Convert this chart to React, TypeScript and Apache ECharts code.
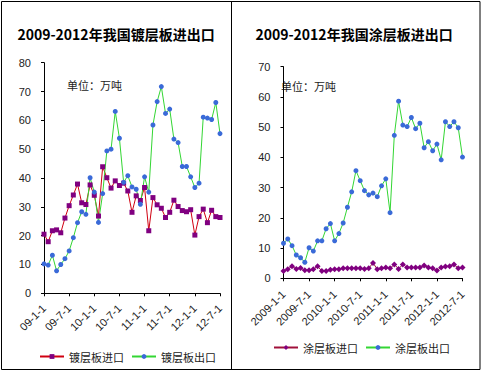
import React, { useEffect, useRef } from "react";
import * as echarts from "echarts";

const months = [
  "2009-1-1","2009-2-1","2009-3-1","2009-4-1","2009-5-1","2009-6-1","2009-7-1","2009-8-1","2009-9-1","2009-10-1","2009-11-1","2009-12-1",
  "2010-1-1","2010-2-1","2010-3-1","2010-4-1","2010-5-1","2010-6-1","2010-7-1","2010-8-1","2010-9-1","2010-10-1","2010-11-1","2010-12-1",
  "2011-1-1","2011-2-1","2011-3-1","2011-4-1","2011-5-1","2011-6-1","2011-7-1","2011-8-1","2011-9-1","2011-10-1","2011-11-1","2011-12-1",
  "2012-1-1","2012-2-1","2012-3-1","2012-4-1","2012-5-1","2012-6-1","2012-7-1",
];

const leftTitle = "2009-2012年我国镀层板进出口";
const rightTitle = "2009-2012年我国涂层板进出口";
const unitText = "单位：万吨";

const galvImportName = "镀层板进口";
const galvExportName = "镀层板出口";
const coatImportName = "涂层板进口";
const coatExportName = "涂层板出口";

const galvImport = [20.5, 17.9, 21.7, 22.0, 21.0, 26.1, 30.4, 34.1, 37.9, 31.4, 30.8, 37.6, 34.0, 26.8, 43.9, 40.1, 36.5, 39.0, 37.4, 38.2, 35.5, 28.1, 33.8, 32.2, 36.7, 21.7, 33.2, 30.7, 29.5, 26.3, 28.1, 32.3, 30.1, 28.7, 28.3, 29.0, 20.2, 26.6, 29.2, 24.5, 28.8, 26.6, 26.3];
const galvExport = [10.2, 9.8, 13.2, 7.8, 10.0, 12.0, 14.7, 19.3, 24.5, 28.3, 27.4, 40.1, 35.1, 24.6, 34.6, 49.4, 50.0, 63.1, 53.8, 38.5, 40.8, 36.9, 36.1, 30.9, 40.4, 35.1, 58.4, 66.5, 71.7, 62.4, 63.9, 53.5, 52.3, 44.0, 44.0, 40.4, 36.7, 38.2, 61.1, 60.8, 60.3, 66.2, 55.4];

const coatImport = [2.4, 3.0, 4.0, 3.1, 3.4, 2.7, 2.7, 3.0, 4.0, 2.4, 2.4, 2.8, 3.0, 3.0, 3.3, 3.3, 3.3, 3.3, 3.3, 3.1, 3.3, 5.1, 3.0, 3.3, 3.6, 3.3, 4.6, 3.1, 4.6, 3.6, 3.6, 3.6, 3.6, 4.2, 3.6, 3.3, 2.6, 3.6, 3.9, 4.0, 4.6, 3.3, 3.6];
const coatExport = [11.6, 13.0, 10.8, 7.7, 6.8, 5.3, 10.1, 9.0, 12.4, 12.4, 16.4, 18.1, 12.4, 14.8, 18.3, 23.5, 28.6, 35.6, 32.3, 29.0, 27.6, 28.2, 27.0, 30.6, 32.9, 21.7, 47.3, 58.6, 50.7, 50.2, 53.2, 49.5, 51.3, 43.2, 45.2, 42.2, 44.4, 39.2, 51.8, 50.2, 51.8, 49.8, 40.1];

const leftYMax = 80;
const rightYMax = 70;
const yInterval = 10;

const CJK = '"Noto Sans CJK SC", sans-serif';
const LAT = '"Liberation Sans", Arial, sans-serif';

export default function App() {
  const ref = useRef<HTMLDivElement>(null);
  useEffect(() => {
    if (!ref.current) return;
    const chart = echarts.init(ref.current, null, { renderer: "svg" });
    const xAxisBase = (gridIndex: number, fmt: (v: string) => string, margin: number) => ({
      type: "category",
      gridIndex,
      data: months,
      boundaryGap: false,
      axisLine: { show: true, lineStyle: { color: "#000", width: 1 } },
      axisTick: { show: true, interval: 5, length: 3, inside: false, lineStyle: { color: "#000" } },
      axisLabel: {
        interval: 5,
        rotate: 45,
        margin,
        formatter: fmt,
        color: "#222",
        fontSize: 11,
        fontFamily: LAT,
      },
      splitLine: { show: false },
    });
    const yAxisBase = (gridIndex: number, max: number) => ({
      type: "value",
      gridIndex,
      min: 0,
      max,
      interval: yInterval,
      axisLine: { show: true, lineStyle: { color: "#000", width: 1 } },
      axisTick: { show: true, length: 3, inside: false, lineStyle: { color: "#000" } },
      axisLabel: { color: "#222", fontSize: 11, fontFamily: LAT, margin: 13 },
      splitLine: { show: false },
    });
    chart.setOption({
      animation: false,
      backgroundColor: "#fff",
      grid: [
        { left: 44, top: 62.7, width: 176, height: 230.6 },
        { left: 283.5, top: 66.7, width: 179, height: 211.6 },
      ],
      xAxis: [
        xAxisBase(0, (v: string) => v.slice(2), 13),
        xAxisBase(1, (v: string) => v, 14),
      ],
      yAxis: [yAxisBase(0, leftYMax), yAxisBase(1, rightYMax)],
      legend: [
        {
          data: [galvImportName, galvExportName],
          left: 34,
          top: 346,
          itemWidth: 24,
          itemHeight: 6,
          itemGap: 7,
          textStyle: { fontSize: 11, fontFamily: CJK, color: "#222" },
        },
        {
          data: [coatImportName, coatExportName],
          left: 268,
          top: 337,
          itemWidth: 24,
          itemHeight: 6,
          itemGap: 7,
          textStyle: { fontSize: 11, fontFamily: CJK, color: "#222" },
        },
      ],
      series: [
        {
          name: galvImportName,
          type: "line",
          xAxisIndex: 0,
          yAxisIndex: 0,
          data: galvImport,
          symbol: "rect",
          symbolSize: 5,
          showAllSymbol: true,
          lineStyle: { color: "#d00010", width: 1 },
          itemStyle: { color: "#800080" },
        },
        {
          name: galvExportName,
          type: "line",
          xAxisIndex: 0,
          yAxisIndex: 0,
          data: galvExport,
          symbol: "circle",
          symbolSize: 5,
          showAllSymbol: true,
          lineStyle: { color: "#33d633", width: 1 },
          itemStyle: { color: "#3a6ad8" },
        },
        {
          name: coatImportName,
          type: "line",
          xAxisIndex: 1,
          yAxisIndex: 1,
          data: coatImport,
          symbol: "diamond",
          symbolSize: 6,
          showAllSymbol: true,
          lineStyle: { color: "#a0103a", width: 1 },
          itemStyle: { color: "#800080" },
        },
        {
          name: coatExportName,
          type: "line",
          xAxisIndex: 1,
          yAxisIndex: 1,
          data: coatExport,
          symbol: "circle",
          symbolSize: 5,
          showAllSymbol: true,
          lineStyle: { color: "#33d633", width: 1 },
          itemStyle: { color: "#3a6ad8" },
        },
      ],
      graphic: [
        {
          type: "rect",
          shape: { x: 1.5, y: 1.5, width: 478.5, height: 368 },
          style: { fill: "none", stroke: "#000", lineWidth: 1 },
          silent: true,
        },
        {
          type: "line",
          shape: { x1: 231.5, y1: 1.5, x2: 231.5, y2: 369.5 },
          style: { stroke: "#000", lineWidth: 1 },
          silent: true,
        },
        {
          type: "text",
          x: 116,
          y: 34,
          style: {
            text: leftTitle,
            align: "center",
            verticalAlign: "middle",
            font: `bold 14px ${CJK}`,
            fill: "#000",
          },
        },
        {
          type: "text",
          x: 354,
          y: 34,
          style: {
            text: rightTitle,
            align: "center",
            verticalAlign: "middle",
            font: `bold 14px ${CJK}`,
            fill: "#000",
          },
        },
        {
          type: "text",
          x: 67,
          y: 85,
          style: {
            text: unitText,
            align: "left",
            verticalAlign: "middle",
            font: `11px ${CJK}`,
            fill: "#222",
          },
        },
        {
          type: "text",
          x: 281,
          y: 86,
          style: {
            text: unitText,
            align: "left",
            verticalAlign: "middle",
            font: `11px ${CJK}`,
            fill: "#222",
          },
        },
      ],
    });
    return () => chart.dispose();
  }, []);
  return (
    <div
      ref={ref}
      style={{ position: "fixed", left: 0, top: 0, width: 482, height: 371 }}
    />
  );
}
